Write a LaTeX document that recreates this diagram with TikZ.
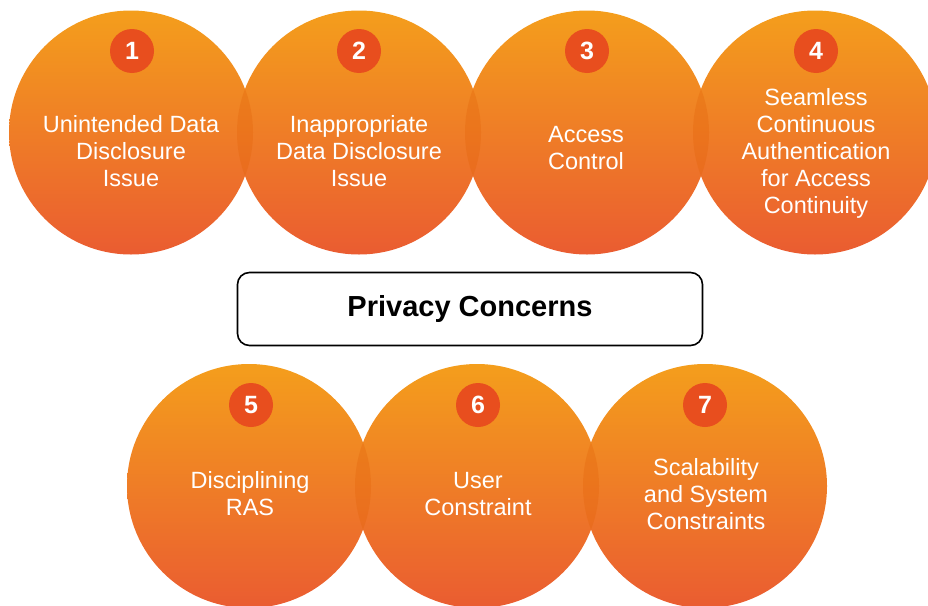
\documentclass[tikz,border=0pt]{standalone}
\usepackage{fontspec}
\setmainfont{Liberation Sans}
\definecolor{ctop}{RGB}{244,158,28}
\definecolor{cbot}{RGB}{234,92,49}
\definecolor{badgec}{RGB}{232,78,30}
\definecolor{lensc}{RGB}{225,95,5}
\begin{document}
\begin{tikzpicture}[x=1pt,y=-1pt,
  bubble/.style={circle,minimum size=244pt,inner sep=0pt,top color=ctop,bottom color=cbot},
  badge/.style={circle,fill=badgec,minimum size=44pt,inner sep=0pt,text=white,font=\fontsize{25}{25}\selectfont\bfseries},
  txt/.style={align=center,text=white,font=\fontsize{23.5}{27}\selectfont},
  lens/.style={fill=lensc,opacity=0.28},
  titlebox/.style={draw=black,line width=1.6pt,rounded corners=12pt,minimum width=465pt,minimum height=73pt,font=\fontsize{29}{29}\selectfont\bfseries}]
\useasboundingbox (0,0) rectangle (928,605);
\begin{scope}
\clip (0,0) rectangle (928,605);
% top row
\node[bubble] (c1) at (131,132.5) {};
\node[bubble] (c2) at (359,132.5) {};
\node[bubble] (c3) at (587,132.5) {};
\node[bubble] (c4) at (815,132.5) {};
% bottom row
\node[bubble] (c5) at (249,486) {};
\node[bubble] (c6) at (477,486) {};
\node[bubble] (c7) at (705,486) {};
% overlaps
\begin{scope}\clip (c1.center) circle (122pt); \fill[lens] (c2.center) circle (122pt);\end{scope}
\begin{scope}\clip (c2.center) circle (122pt); \fill[lens] (c3.center) circle (122pt);\end{scope}
\begin{scope}\clip (c3.center) circle (122pt); \fill[lens] (c4.center) circle (122pt);\end{scope}
\begin{scope}\clip (c5.center) circle (122pt); \fill[lens] (c6.center) circle (122pt);\end{scope}
\begin{scope}\clip (c6.center) circle (122pt); \fill[lens] (c7.center) circle (122pt);\end{scope}
\end{scope}
% badges
\node[badge] (b1) at (132,51) {1};
\node[badge] (b2) at (359,51) {2};
\node[badge] (b3) at (587,51) {3};
\node[badge] (b4) at (816,51) {4};
\node[badge] (b5) at (251,405) {5};
\node[badge] (b6) at (478,405) {6};
\node[badge] (b7) at (705,405) {7};
% texts
\node[txt] (t1) at (131,151) {Unintended Data\\Disclosure\\Issue};
\node[txt] (t2) at (359,151) {Inappropriate\\Data Disclosure\\Issue};
\node[txt] (t3) at (586,148.5) {Access\\Control};
\node[txt] (t4) at (816,153) {Seamless\\Continuous\\Authentication\\for Access\\Continuity};
\node[txt] (t5) at (250,494) {Disciplining\\RAS};
\node[txt] (t6) at (478,494) {User\\Constraint};
\node[txt] (t7) at (706,494) {Scalability\\and System\\Constraints};
% title
\node[titlebox,fill=white] (title) at (470,309) {Privacy Concerns};
\end{tikzpicture}
\end{document}
